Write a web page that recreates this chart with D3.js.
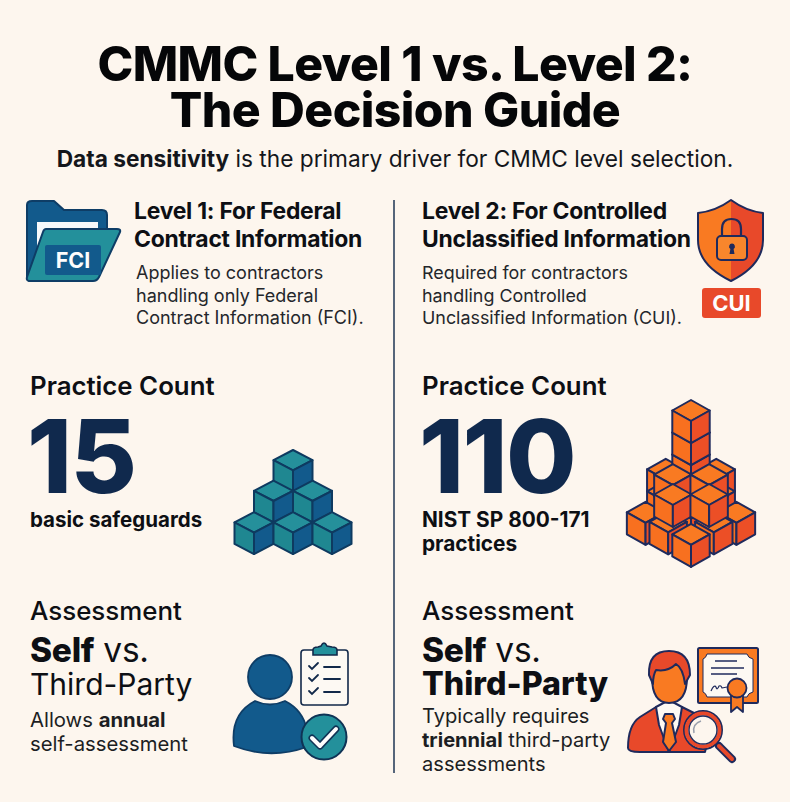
<!DOCTYPE html>
<html>
<head>
<meta charset="utf-8">
<title>CMMC Level 1 vs. Level 2</title>
<script src="https://cdn.jsdelivr.net/npm/d3@7"></script>
<style>
  html, body { margin: 0; padding: 0; background: #fdf6ee; }
  svg { display: block; }
  text { font-family: Inter, "Noto Sans", sans-serif; }
</style>
</head>
<body>
<div id="chart"></div>
<script>
const titleLines = ["CMMC Level 1 vs. Level 2:", "The Decision Guide"];
const subtitleRuns = [["Data sensitivity", 700], [" is the primary driver for CMMC level selection.", 400]];

const headersLeft = ["Level 1: For Federal", "Contract Information"];
const headersRight = ["Level 2: For Controlled", "Unclassified Information"];
const bodyLeft = ["Applies to contractors", "handling only Federal", "Contract Information (FCI)."];
const bodyRight = ["Required for contractors", "handling Controlled", "Unclassified Information (CUI)."];

const countLabel = "Practice Count";
const practiceCounts = ["15", "110"];
const countNotesLeft = ["basic safeguards"];
const countNotesRight = ["NIST SP 800-171", "practices"];

const assessmentLabel = "Assessment";
const assessLeft = [[["Allows ", 400], ["annual", 700]], [["self-assessment", 400]]];
const assessRight = [[["Typically requires", 400]], [["triennial", 700], [" third-party", 400]], [["assessments", 400]]];

// cube stacks: [column, row] in half-cube steps, back to front
const tealCubes = [[0, 0], [-1, 3], [1, 3], [-2, 6.1], [0, 6.1], [2, 6.1]];
const orangeCubes = [
  [-1.35, 5.6], [1.35, 5.6], [-1.35, 7.7], [1.35, 7.7],
  [0, 4.2], [0, 2.1], [0, 0],
  [0, 9.3],
  [-2.43, 9.7], [2.43, 9.7], [-1.22, 10.6], [1.22, 10.6],
  [-0.97, 6.1], [0.97, 6.1], [-0.97, 8], [0.97, 8],
  [0, 11.8]
];

const ink = "#0d0f14";
const navy = "#10294d";
const blue = "#125a8c";
const blueLine = "#0e3d66";
const teal = "#23909b";
const orange = "#f97a22";
const red = "#e8492a";
const redLine = "#1f2a5c";
const paper = "#fdf6ee";

const width = 790;
const height = 802;
const colLeft = 30;
const colRight = 422;

const svg = d3.select("#chart")
  .append("svg")
    .attr("width", width)
    .attr("height", height)
    .attr("viewBox", `0 0 ${width} ${height}`);

svg.append("rect")
    .attr("width", width)
    .attr("height", height)
    .attr("fill", paper);

const addText = (x, y, runs, size, weight, fill, anchor, spacing) => {
  const t = svg.append("text")
      .attr("x", x)
      .attr("y", y)
      .attr("font-size", size)
      .attr("fill", fill || ink)
      .attr("text-anchor", anchor || "start")
      .attr("letter-spacing", spacing || 0);
  if (typeof runs === "string") runs = [[runs, weight]];
  runs.forEach(r => {
    t.append("tspan")
        .attr("font-weight", r[1])
        .text(r[0]);
  });
  return t;
};

// title block
titleLines.forEach((line, i) => addText(width / 2, 81 + i * 46, line, 48.2, 800, "#050608", "middle", -0.6));
addText(width / 2, 167, subtitleRuns, 22.7, 400, "#14161b", "middle");

// divider between both levels
svg.append("line")
    .attr("x1", 394)
    .attr("x2", 394)
    .attr("y1", 200)
    .attr("y2", 773)
    .attr("stroke", "#1c3553")
    .attr("stroke-width", 1.5);

// level headers
headersLeft.forEach((line, i) => addText(134, 219 + i * 28, line, 22.9, 700, ink, "start", -0.25));
headersRight.forEach((line, i) => addText(colRight, 219 + i * 28, line, 22.9, 700, ink, "start", -0.25));
bodyLeft.forEach((line, i) => addText(136, 279 + i * 22.7, line, 18, 400, "#24262b"));
bodyRight.forEach((line, i) => addText(colRight, 279 + i * 22.7, line, 17.9, 400, "#24262b"));

// practice count
[colLeft, colRight].forEach((x, i) => {
  addText(x, 395, countLabel, 25.8, 600, ink);
  addText(x - 3, 492.5, practiceCounts[i], 102, 800, navy, "start", -1.5);
});
countNotesLeft.forEach((line, i) => addText(colLeft, 526.5, line, 20.5, 700, ink));
countNotesRight.forEach((line, i) => addText(colRight, 526.5 + i * 24.5, line, 20.8, 700, ink));

// assessment
[colLeft, colRight].forEach(x => addText(x, 620, assessmentLabel, 25.9, 500, ink));
addText(colLeft, 662, [["Self", 800], [" vs.", 400]], 33.5, 400, ink, "start", -0.3);
addText(colRight, 662, [["Self", 800], [" vs.", 400]], 33.5, 400, ink, "start", -0.3);
addText(colLeft, 695, "Third-Party", 30, 400, ink);
addText(colRight, 695, "Third-Party", 32.2, 800, ink);
assessLeft.forEach((runs, i) => addText(colLeft, 727 + i * 24, runs, 20.3, 400, "#1c1e23"));
assessRight.forEach((runs, i) => addText(colRight, 723 + i * 24.2, runs, 20.1, 400, "#1c1e23"));

// cube stacks, one scale per axis
const drawCubes = (cubes, cx, top, w, h, v, colors) => {
  const xScale = d3.scaleLinear().domain([-1, 1]).range([cx - w, cx + w]);
  const yScale = d3.scaleLinear().domain([0, 1]).range([top, top + h]);

  const cube = svg.append("g")
    .selectAll("g")
    .data(cubes)
    .join("g")
      .attr("transform", d => `translate(${xScale(d[0])}, ${yScale(d[1])})`)
      .attr("stroke", colors.line)
      .attr("stroke-width", colors.weight)
      .attr("stroke-linejoin", "round");

  cube.append("path")
      .attr("fill", colors.top)
      .attr("d", `M0 0L${w} ${h}L0 ${2 * h}L${-w} ${h}Z`);
  cube.append("path")
      .attr("fill", colors.left)
      .attr("d", `M${-w} ${h}L0 ${2 * h}L0 ${2 * h + v}L${-w} ${h + v}Z`);
  cube.append("path")
      .attr("fill", colors.right)
      .attr("d", `M${w} ${h}L0 ${2 * h}L0 ${2 * h + v}L${w} ${h + v}Z`);
};

drawCubes(tealCubes, 293, 450, 19.5, 10.2, 21.5, { top: "#25909b", left: "#1f8791", right: "#125a8c", line: "#0e3a60", weight: 2 });
drawCubes(orangeCubes, 691, 400, 18.7, 10.5, 22, { top: orange, left: "#f8701f", right: "#ec4f26", line: redLine, weight: 2 });

// folder icon
const folder = svg.append("g").attr("stroke", blueLine).attr("stroke-width", 2).attr("stroke-linejoin", "round");
folder.append("path")
    .attr("fill", blue)
    .attr("d", "M27 205Q27 201 32 201L54 201L64 210L102 210Q107 210 107 215L107 240L40 281L30 281Q27 281 27 277Z");
folder.append("path")
    .attr("fill", "#f6f9fb")
    .attr("stroke", "none")
    .attr("d", "M37 222L98 222L98 229L48 229L37 252Z");
folder.append("path")
    .attr("fill", teal)
    .attr("d", "M46 229L117 229Q121 229 120 232L99 277Q97 281 93 281L30 281Q26 281 27 277L43 232Q44 229 46 229Z");
svg.append("rect")
    .attr("x", 45)
    .attr("y", 245)
    .attr("width", 56)
    .attr("height", 30)
    .attr("rx", 2)
    .attr("fill", blue);
addText(73, 268, "FCI", 21.5, 700, "#fdfdfd", "middle");

// shield icon
const shield = svg.append("g").attr("stroke-linejoin", "round");
shield.append("path")
    .attr("fill", orange)
    .attr("d", "M731 200Q716 211 698 213L698 240Q698 265 731 281Z");
shield.append("path")
    .attr("fill", red)
    .attr("d", "M731 200Q746 211 763 213L763 240Q763 265 731 281Z");
shield.append("path")
    .attr("fill", "none")
    .attr("stroke", redLine)
    .attr("stroke-width", 2)
    .attr("d", "M731 200Q716 211 698 213L698 240Q698 265 731 281Q763 265 763 240L763 213Q746 211 731 200Z");
shield.append("path")
    .attr("fill", "none")
    .attr("stroke", redLine)
    .attr("stroke-width", 2.2)
    .attr("d", "M722 236L722 229Q722 219 731.5 219Q741 219 741 229L741 236");
shield.append("rect")
    .attr("x", 717)
    .attr("y", 236)
    .attr("width", 30)
    .attr("height", 24)
    .attr("rx", 4)
    .attr("fill", "#f8862c")
    .attr("stroke", redLine)
    .attr("stroke-width", 2);
shield.append("path")
    .attr("fill", redLine)
    .attr("d", "M732 243.5a3 3 0 0 1 1.6 5.5L734.5 254L729.5 254L730.4 249a3 3 0 0 1 1.6 -5.5Z");
svg.append("rect")
    .attr("x", 702)
    .attr("y", 288)
    .attr("width", 59)
    .attr("height", 30)
    .attr("rx", 3)
    .attr("fill", red);
addText(731.5, 311, "CUI", 22, 700, "#fdfdfd", "middle");

// person with clipboard
const person = svg.append("g").attr("stroke", blueLine).attr("stroke-width", 1.8).attr("stroke-linejoin", "round");
person.append("circle")
    .attr("cx", 270)
    .attr("cy", 677)
    .attr("r", 22)
    .attr("fill", blue);
person.append("path")
    .attr("fill", blue)
    .attr("d", "M234 746Q230 714 255 701Q270 708 285 701Q303 710 307 730L307 747Q270 760 234 746Z");
const board = svg.append("g").attr("stroke", "#12294a").attr("stroke-linecap", "round");
board.append("rect")
    .attr("x", 301)
    .attr("y", 650)
    .attr("width", 47)
    .attr("height", 55)
    .attr("rx", 3)
    .attr("fill", "#fdf9f3")
    .attr("stroke-width", 1.6);
board.append("path")
    .attr("fill", teal)
    .attr("stroke-width", 1.6)
    .attr("d", "M313 655L313 650Q313 647 318 647L321 646Q324 640 327 646L332 647Q337 647 337 650L337 655Z");
[667, 679, 692].forEach(y => {
  board.append("path")
      .attr("fill", "none")
      .attr("stroke-width", 1.8)
      .attr("d", `M309 ${y - 1}L312 ${y + 2}L318 ${y - 4}`);
  board.append("line")
      .attr("x1", 324)
      .attr("x2", 340)
      .attr("y1", y)
      .attr("y2", y)
      .attr("stroke-width", 1.8);
});
svg.append("circle")
    .attr("cx", 324)
    .attr("cy", 737)
    .attr("r", 22.5)
    .attr("fill", teal)
    .attr("stroke", "#0f3355")
    .attr("stroke-width", 2);
svg.append("path")
    .attr("fill", "none")
    .attr("stroke", "#0f3355")
    .attr("stroke-width", 7)
    .attr("stroke-linecap", "round")
    .attr("stroke-linejoin", "round")
    .attr("d", "M312 738L320 746L336 729");
svg.append("path")
    .attr("fill", "none")
    .attr("stroke", "#fdfdfd")
    .attr("stroke-width", 4)
    .attr("stroke-linecap", "round")
    .attr("stroke-linejoin", "round")
    .attr("d", "M312 738L320 746L336 729");

// certificate
const cert = svg.append("g").attr("stroke", redLine).attr("stroke-linejoin", "round");
cert.append("rect")
    .attr("x", 698)
    .attr("y", 648)
    .attr("width", 60)
    .attr("height", 55)
    .attr("rx", 1.5)
    .attr("fill", orange)
    .attr("stroke-width", 2);
cert.append("path")
    .attr("fill", "#fdf9f3")
    .attr("stroke-width", 1)
    .attr("d", "M707 654L747 654Q748 658 753 659L753 692Q748 693 747 697L707 697Q706 693 703 692L703 659Q706 658 707 654Z");
[[715, 737, 661], [711, 744, 668], [711, 737, 674]].forEach(l => {
  cert.append("line")
      .attr("x1", l[0])
      .attr("x2", l[1])
      .attr("y1", l[2])
      .attr("y2", l[2])
      .attr("stroke-width", 1.5);
});
cert.append("path")
    .attr("fill", "none")
    .attr("stroke-width", 1.2)
    .attr("d", "M711 691Q714 684 716 687Q717 691 719 686Q721 685 722 688L727 687");
cert.append("path")
    .attr("fill", orange)
    .attr("stroke-width", 1.8)
    .attr("d", "M731 692L731 712L737 707L743 712L743 692Z");
cert.append("circle")
    .attr("cx", 737)
    .attr("cy", 688)
    .attr("r", 9.5)
    .attr("fill", orange)
    .attr("stroke-width", 1.8);

// inspector with magnifier
const man = svg.append("g").attr("stroke", redLine).attr("stroke-width", 2).attr("stroke-linejoin", "round");
man.append("path")
    .attr("fill", red)
    .attr("d", "M628 748Q628 725 640 717L656 707L682 707L712 722L705 752L640 752Q628 752 628 748Z");
man.append("path")
    .attr("fill", "#fdf9f3")
    .attr("d", "M656 707L669 700L682 707L679 725L669 752L659 725Z");
man.append("path")
    .attr("fill", orange)
    .attr("d", "M665 714L673 714L675 719L672 723L676 742L669 751L663 742L666 723L663 719Z");
man.append("path")
    .attr("fill", orange)
    .attr("d", "M652 677Q652 703 669 703Q687 703 687 677L683 665L655 665Z");
man.append("path")
    .attr("fill", red)
    .attr("d", "M649 675Q648 651 669 651Q690 651 690 675L685 684Q683 668 676 664Q668 672 656 670Q653 675 653 684Z");
man.append("line")
    .attr("x1", 719)
    .attr("y1", 746)
    .attr("x2", 732)
    .attr("y2", 759)
    .attr("stroke-width", 8)
    .attr("stroke-linecap", "round");
man.append("line")
    .attr("x1", 719)
    .attr("y1", 746)
    .attr("x2", 732)
    .attr("y2", 759)
    .attr("stroke", red)
    .attr("stroke-width", 4)
    .attr("stroke-linecap", "round");
man.append("circle")
    .attr("cx", 703)
    .attr("cy", 730)
    .attr("r", 19)
    .attr("fill", "#fdf6ee");
man.append("circle")
    .attr("cx", 703)
    .attr("cy", 730)
    .attr("r", 16.5)
    .attr("fill", "none")
    .attr("stroke", red)
    .attr("stroke-width", 4);
man.append("circle")
    .attr("cx", 703)
    .attr("cy", 730)
    .attr("r", 14)
    .attr("fill", "none")
    .attr("stroke-width", 1.4);
man.append("path")
    .attr("fill", "none")
    .attr("stroke", "#9aa0ad")
    .attr("stroke-width", 1.5)
    .attr("d", "M694 733Q692 724 701 721");
</script>
</body>
</html>
